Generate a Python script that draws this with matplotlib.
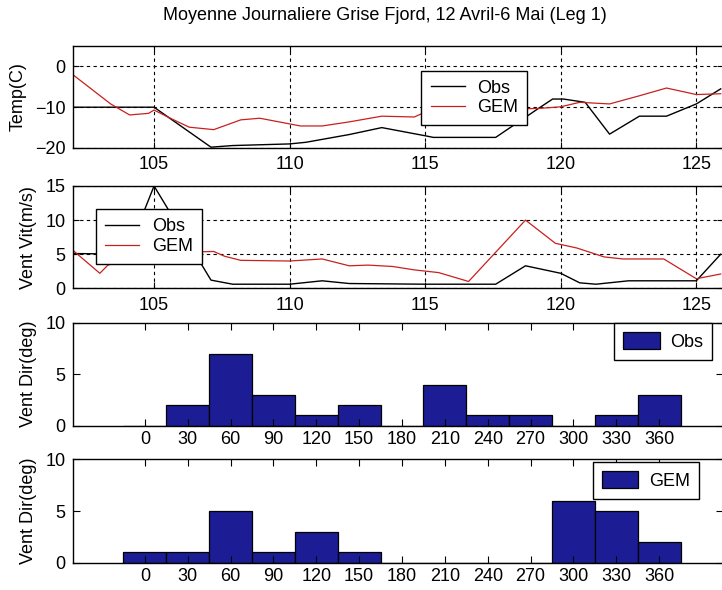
import matplotlib
matplotlib.use('Agg')
import matplotlib.pyplot as plt

plt.rcParams['font.family'] = ['Liberation Sans', 'DejaVu Sans']

# temperature, moyennes journalieres
t_obs_day = [102, 105, 107.1, 107.9, 110, 110.6, 112.2, 113.4, 115.0, 115.3, 117.6, 118.2,
             119.2, 119.7, 120.1, 120.5, 120.9, 121.8, 122.9, 123.9, 125.0, 125.9]
t_obs = [-10, -10, -19.8, -19.4, -19.0, -18.6, -16.7, -15.0, -17.0, -17.4, -17.4, -14.7,
         -10.2, -8.0, -8.0, -8.4, -8.8, -16.6, -12.2, -12.2, -9.2, -5.5]
t_gem_day = [102, 103.4, 104.1, 104.8, 105.0, 105.6, 106.3, 107.2, 108.2, 108.9, 110.4, 111.2,
             112.2, 113.4, 114.6, 115.0, 117.0, 119.2, 120.0, 120.7, 121.8, 122.9, 123.9, 125.0, 125.9]
t_gem = [-2.0, -9.2, -11.9, -11.5, -10.7, -12.7, -14.9, -15.5, -13.1, -12.7, -14.6, -14.6,
         -13.6, -12.2, -12.4, -11.2, -10.6, -10.3, -9.9, -8.8, -9.2, -7.2, -5.3, -6.9, -6.7]

# vitesse du vent
v_obs_day = [102, 104, 105, 107.1, 107.9, 110, 111.2, 112.2, 115.0, 117.6, 118.7, 120.0,
             120.7, 121.3, 122.5, 125.0, 125.9]
v_obs = [5.1, 5.0, 15.0, 1.2, 0.6, 0.6, 1.1, 0.7, 0.6, 0.6, 3.3, 2.2,
         0.8, 0.6, 1.1, 1.1, 5.0]
v_gem_day = [102, 103.0, 103.3, 105.0, 107.2, 107.6, 108.2, 110.0, 111.2, 112.2, 112.9, 113.8,
             114.6, 115.5, 116.6, 118.7, 119.8, 120.6, 121.6, 122.3, 123.8, 125.0, 125.9]
v_gem = [5.6, 2.2, 3.4, 5.2, 5.4, 4.7, 4.1, 4.0, 4.3, 3.3, 3.4, 3.2,
         2.7, 2.3, 1.0, 10.0, 6.6, 5.9, 4.6, 4.3, 4.3, 1.4, 2.1]

# direction du vent (histogrammes)
dir_bins = [0, 30, 60, 90, 120, 150, 180, 210, 240, 270, 300, 330, 360]
dir_obs = [0, 2, 7, 3, 1, 2, 0, 4, 1, 1, 0, 1, 3]
dir_gem = [1, 1, 5, 1, 3, 1, 0, 0, 0, 0, 6, 5, 2]

day_ticks = [105, 110, 115, 120, 125]

fig = plt.figure(figsize=(7.22, 5.90), dpi=100)

left = 72.7 / 722
width = 1.0 - left + 0.002


def box(top, bottom):
    return [left, 1 - bottom / 590, width, (bottom - top) / 590]


ax1 = fig.add_axes(box(46, 148))
ax2 = fig.add_axes(box(186, 288.3))
ax3 = fig.add_axes(box(322.7, 425.7))
ax4 = fig.add_axes(box(459.3, 562.7))

red = '#c82020'
leg_kw = dict(fontsize=13, frameon=True, fancybox=False, framealpha=1, edgecolor='k',
              handlelength=1.9, handletextpad=0.7, borderpad=0.5, labelspacing=0.15,
              borderaxespad=0)

for ax in (ax1, ax2, ax3, ax4):
    for s in ax.spines.values():
        s.set_linewidth(1.0)
    ax.tick_params(direction='in', length=4, width=0.8, top=True, right=True, labelsize=13)

# temperature
ax1.plot(t_obs_day, t_obs, color='k', lw=1.0, label='Obs')
ax1.plot(t_gem_day, t_gem, color=red, lw=0.9, label='GEM')
ax1.set_xlim(102, 126)
ax1.set_ylim(-20, 5)
ax1.set_xticks(day_ticks)
ax1.set_yticks([-20, -10, 0])
ax1.grid(True, color='k', linestyle=(0, (3, 3)), linewidth=0.8)
ax1.set_ylabel('Temp(C)', fontsize=13, labelpad=6)
ax1.tick_params(axis='x', pad=6)
ax1.tick_params(axis='y', pad=5)
leg = ax1.legend(loc='upper left', bbox_to_anchor=(0.536, 0.758), **leg_kw)
leg.get_frame().set_linewidth(1.0)

# vent vitesse
ax2.plot(v_obs_day, v_obs, color='k', lw=1.0, label='Obs')
ax2.plot(v_gem_day, v_gem, color=red, lw=0.9, label='GEM')
ax2.set_xlim(102, 126)
ax2.set_ylim(0, 15)
ax2.set_xticks(day_ticks)
ax2.set_yticks([0, 5, 10, 15])
ax2.grid(True, color='k', linestyle=(0, (3, 3)), linewidth=0.8)
ax2.set_ylabel('Vent Vit(m/s)', fontsize=13, labelpad=6)
ax2.tick_params(axis='x', pad=6)
ax2.tick_params(axis='y', pad=5)
leg = ax2.legend(loc='upper left', bbox_to_anchor=(0.0354, 0.772), **leg_kw)
leg.get_frame().set_linewidth(1.0)

# vent direction
navy = '#1c1c94'
hist_leg = dict(fontsize=13, frameon=True, fancybox=False, framealpha=1, edgecolor='k',
                handlelength=2.0, handleheight=1.1, handletextpad=0.6, borderpad=0.5,
                borderaxespad=0)
for ax, vals, lab, anchor in ((ax3, dir_obs, 'Obs', (0.983, 1.0)),
                              (ax4, dir_gem, 'GEM', (0.962, 0.975))):
    ax.bar(dir_bins, vals, width=30, color=navy, edgecolor='k', linewidth=0.9, label=lab)
    ax.set_xlim(-50.5, 405)
    ax.set_ylim(0, 10)
    ax.set_xticks(dir_bins)
    ax.set_yticks([0, 5, 10])
    ax.set_ylabel('Vent Dir(deg)', fontsize=13, labelpad=6)
    ax.tick_params(axis='x', pad=4, length=5)
    ax.tick_params(axis='y', pad=5, length=5)
    leg = ax.legend(loc='upper right', bbox_to_anchor=anchor, **hist_leg)
    leg.get_frame().set_linewidth(1.0)

fig.text(385 / 722, 1 - 15 / 590, 'Moyenne Journaliere Grise Fjord, 12 Avril-6 Mai (Leg 1)',
         ha='center', va='center', fontsize=13)

fig.savefig('out.png', dpi=100)
